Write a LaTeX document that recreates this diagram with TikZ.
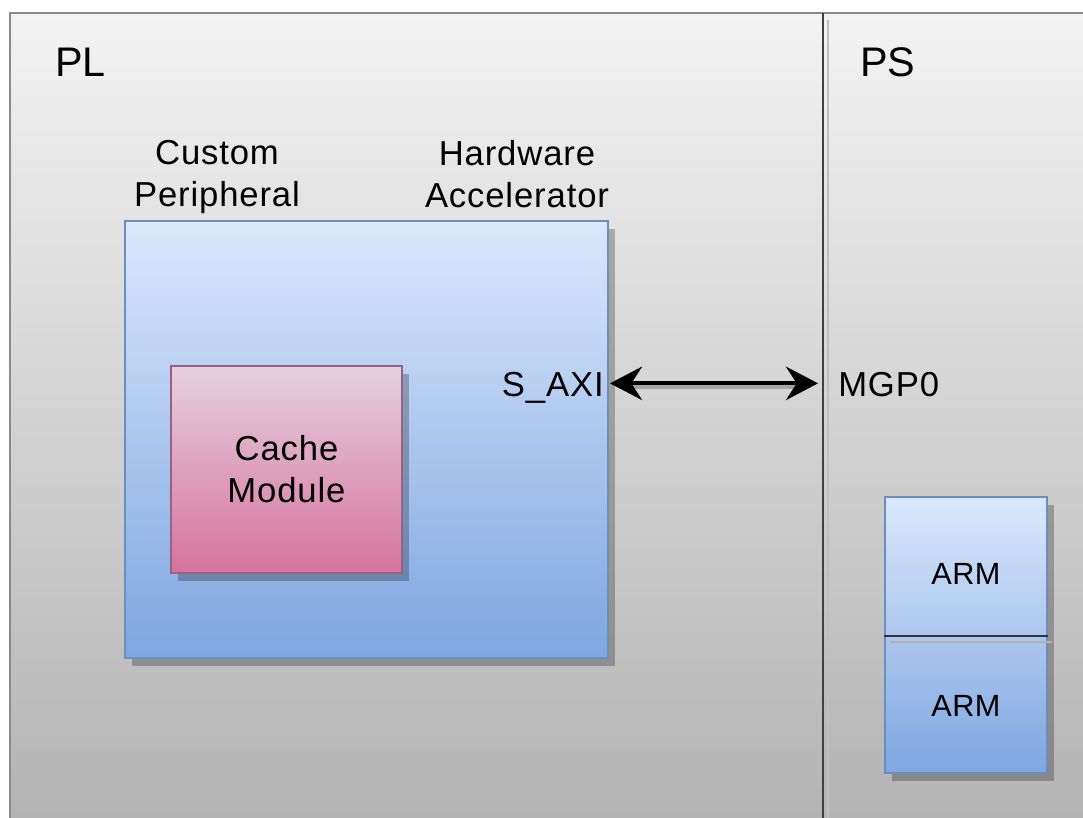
\documentclass[tikz,border=0pt]{standalone}
\usepackage{fontspec}
\setmainfont{Liberation Sans}
\usetikzlibrary{arrows.meta,shadows}

\definecolor{frame}{HTML}{8A8A8A}
\definecolor{bgtop}{HTML}{F3F3F3}
\definecolor{bgbot}{HTML}{B3B3B3}
\definecolor{blueline}{HTML}{6C8EBF}
\definecolor{bluetop}{HTML}{DAE8FC}
\definecolor{bluebot}{HTML}{7EA6E0}
\definecolor{pinkline}{HTML}{996185}
\definecolor{pinktop}{HTML}{E6D0DE}
\definecolor{pinkbot}{HTML}{D5739D}

\tikzset{
  boxshadow/.style={drop shadow={shadow xshift=5pt, shadow yshift=-6pt, fill=black, opacity=0.25}},
  bluebox/.style={draw=blueline, line width=1.2pt, top color=bluetop, bottom color=bluebot, boxshadow},
  pinkbox/.style={draw=pinkline, line width=1.2pt, top color=pinktop, bottom color=pinkbot, boxshadow},
  lbl/.style={font=\fontsize{26}{31.5}\selectfont\addfontfeatures{LetterSpace=2.5}, inner sep=0pt, align=center},
  big/.style={font=\fontsize{31}{37}\selectfont, inner sep=0pt},
  armlbl/.style={font=\fontsize{23}{27}\selectfont\addfontfeatures{LetterSpace=1.5}},
}

\begin{document}
\begin{tikzpicture}[x=0.75pt, y=-0.75pt]
                \useasboundingbox (0,0) rectangle (1083,818);

                % Background of PL and PS
                \fill[top color=bgtop, bottom color=bgbot] (10,13) rectangle (1083,818);
                \draw[frame, line width=1.5pt] (10,818) -- (10,13) -- (1083,13);
                \draw[black!25, line width=1.5pt] (828,20) -- (828,818); % divider shadow
                \draw[black!75, line width=1.1pt] (823,13) -- (823,818); % divider

                \node[big, anchor=base west] (pl) at (55,76) {PL};
                \node[big, anchor=base west] (ps) at (860,76) {PS};

                % Hardware accelerator with the cache module
                \node[bluebox, minimum width=362pt, minimum height=328pt] (accel) at (366.5,439.5) {};
                \node[pinkbox, minimum width=173pt, minimum height=155pt, lbl] (cache) at (286.5,469.5) {Cache\\Module};

                \node[lbl, anchor=north] (custom) at (217,140) {Custom\\Peripheral};
                \node[lbl, anchor=north] (hw) at (517,140) {Hardware\\Accelerator};

                % AXI link
                \node[lbl, anchor=base east] (saxi) at (604,396) {S\_AXI};
                \node[lbl, anchor=base west] (mgp) at (838,396) {MGP0};
                \draw[black!35, line width=3pt] ([xshift=20pt, yshift=7pt]saxi.base east) -- ([xshift=-25pt, yshift=7pt]mgp.base west);
                \draw[line width=3pt, {Stealth[length=24pt, width=25pt, inset=8pt]}-{Stealth[length=24pt, width=25pt, inset=8pt]}]
                    ([xshift=4.5pt, yshift=9.5pt]saxi.base east) -- ([xshift=-15pt, yshift=9.5pt]mgp.base west);

                % ARM cores
                \node[bluebox, minimum width=121.5pt, minimum height=207pt] (cpu) at (966,635) {};
                \draw[black!30, line width=1.5pt] (890,642) -- (1052,642);
                \draw[black!80, line width=1.2pt] (cpu.west |- 0,636) -- (cpu.east |- 0,636);
                \node[armlbl] (arm1) at (966,574) {ARM};
                \node[armlbl] (arm2) at (966,706) {ARM};
\end{tikzpicture}
\end{document}
